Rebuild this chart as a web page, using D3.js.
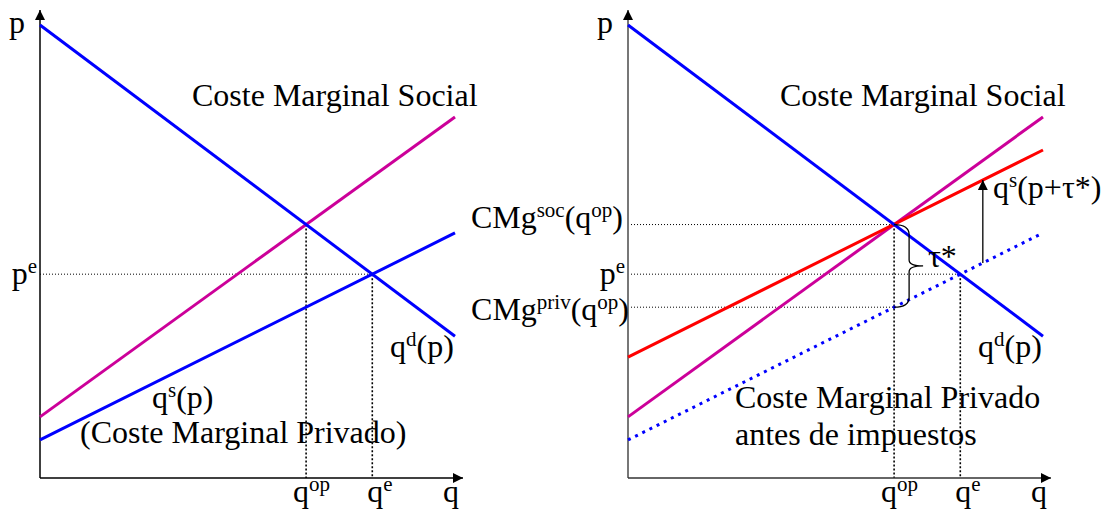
<!DOCTYPE html>
<html>
<head>
<meta charset="utf-8">
<script src="https://cdn.jsdelivr.net/npm/d3@7"></script>
<style>
  body { margin: 0; background: #fff; }
  text { font-family: "Times New Roman", "Liberation Serif", serif; font-size: 32px; fill: #000; }
</style>
</head>
<body>
<div id="chart"></div>
<script>
// price at q = 0 and q = 10 for each straight curve
const demand = [10, 3.13];
const socialMC = [1.35, 7.97];
const privateMC = [0.84, 5.41];
const taxedMC = [2.67, 7.24];
const qArrow = 8.55;

const width = 1108;
const height = 515;

const svg = d3.select('#chart')
  .append('svg')
  .attr('width', width)
  .attr('height', height);

const defs = svg.append('defs');
defs.append('marker')
  .attr('id', 'arrow')
  .attr('viewBox', '0 0 10 10')
  .attr('refX', 10).attr('refY', 5)
  .attr('markerWidth', 10).attr('markerHeight', 10)
  .attr('markerUnits', 'userSpaceOnUse')
  .attr('orient', 'auto')
  .append('path')
  .attr('d', 'M0,0 L10,5 L0,10 Z')
  .attr('fill', '#000');

const at = (c, q) => c[0] + (c[1] - c[0]) * q / 10;
// q where two curves cross
const cross = (a, b) => 10 * (a[0] - b[0]) / ((b[1] - b[0]) - (a[1] - a[0]));

const qOp = cross(demand, socialMC);
const qE = cross(demand, privateMC);
const pE = at(demand, qE);
const cmgSoc = at(socialMC, qOp);
const cmgPriv = at(privateMC, qOp);

const y = d3.scaleLinear().domain([0, 10]).range([478, 25]);

function label(g, x, yy, parts, anchor) {
  const t = g.append('text').attr('x', x).attr('y', yy).attr('text-anchor', anchor || 'start');
  let shift = 0;
  parts.forEach(([s, isSup]) => {
    const target = isSup ? -11 : 0;
    t.append('tspan')
      .attr('font-size', isSup ? 21 : 32)
      .attr('dy', target - shift)
      .text(s);
    shift = target;
  });
  return t;
}

function panel(x0, right) {
  const x = d3.scaleLinear().domain([0, 10]).range([x0, x0 + 415]);
  const g = svg.append('g');
  const line = (c, color, dash) => g.append('line')
    .attr('x1', x(0)).attr('y1', y(c[0]))
    .attr('x2', x(10)).attr('y2', y(c[1]))
    .attr('stroke', color).attr('stroke-width', 3)
    .attr('stroke-dasharray', dash || null);

  // guides
  const hDot = (p, x2) => g.append('line')
    .attr('x1', x(0)).attr('y1', y(p)).attr('x2', x2).attr('y2', y(p))
    .attr('stroke', '#000').attr('stroke-width', 1).attr('stroke-dasharray', '1,2');
  const vDot = (q, p) => g.append('line')
    .attr('x1', x(q)).attr('y1', y(p)).attr('x2', x(q)).attr('y2', y(0))
    .attr('stroke', '#000').attr('stroke-width', 1.6).attr('stroke-dasharray', '2,2');

  hDot(pE, x(qE));
  vDot(qE, pE);
  vDot(qOp, cmgSoc);
  if (right) {
    hDot(cmgSoc, x(qOp));
    hDot(cmgPriv, x(qOp));
  }

  // axes
  g.append('line')
    .attr('x1', x(0)).attr('y1', y(0)).attr('x2', x(0)).attr('y2', 10)
    .attr('stroke', right ? '#777' : '#000').attr('stroke-width', right ? 2 : 1.5)
    .attr('marker-end', 'url(#arrow)');
  g.append('line')
    .attr('x1', x(0)).attr('y1', y(0)).attr('x2', x(0) + 423).attr('y2', y(0))
    .attr('stroke', right ? '#333' : '#000').attr('stroke-width', 1.5)
    .attr('marker-end', 'url(#arrow)');

  // curves
  if (right) {
    line(privateMC, '#0000ff', '3,5');
    line(socialMC, '#cc0099');
    line(taxedMC, '#ff0000');
  } else {
    line(socialMC, '#cc0099');
    line(privateMC, '#0000ff');
  }
  line(demand, '#0000ff');

  // labels
  label(g, x(0) - 15, 33, [['p']], 'end');
  label(g, x(0) - 3, y(pE) + 10, [['p'], ['e', 1]], 'end');
  label(g, x(0) + 152, 106, [['Coste Marginal Social']]);
  label(g, x(0) + 350, 357, [['q'], ['d', 1], ['(p)']]);
  label(g, x(qOp) - 13, 502, [['q'], ['op', 1]]);
  label(g, x(qE) - 5, 502, [['q'], ['e', 1]]);
  label(g, x(0) + 403, 502, [['q']]);

  if (right) {
    label(g, x(0) - 5, y(cmgSoc) + 3, [['CMg'], ['soc', 1], ['(q'], ['op', 1], [')']], 'end');
    label(g, x(0) + 1, y(cmgPriv) + 13, [['CMg'], ['priv', 1], ['(q'], ['op', 1], [')']], 'end');
    label(g, x(0) + 107, 408, [['Coste Marginal Privado']]);
    label(g, x(0) + 107, 445, [['antes de impuestos']]);
    label(g, 993, 198, [['q'], ['s', 1], ['(p+\u03C4*)']]);
    label(g, 928, 267, [['\u03C4*']]);

    // brace for the tax
    const bx = x(qOp), top = y(cmgSoc), bot = y(cmgPriv), mid = (top + bot) / 2;
    g.append('path')
      .attr('d', `M${bx},${top} Q${bx + 15},${top} ${bx + 15},${top + 10} L${bx + 15},${mid - 6}
        Q${bx + 15},${mid} ${bx + 29},${mid} Q${bx + 15},${mid} ${bx + 15},${mid + 6}
        L${bx + 15},${bot - 10} Q${bx + 15},${bot} ${bx},${bot}`)
      .attr('fill', 'none').attr('stroke', '#000').attr('stroke-width', 1.3);

    // shift arrow
    g.append('line')
      .attr('x1', x(qArrow)).attr('y1', y(at(privateMC, qArrow)))
      .attr('x2', x(qArrow)).attr('y2', y(at(taxedMC, qArrow)))
      .attr('stroke', '#000').attr('stroke-width', 1.3)
      .attr('marker-end', 'url(#arrow)');
  } else {
    label(g, x(0) + 112, 408, [['q'], ['s', 1], ['(p)']]);
    label(g, x(0) + 40, 443, [['(Coste Marginal Privado)']]);
  }
}

panel(40, false);
panel(628, true);
</script>
</body>
</html>
